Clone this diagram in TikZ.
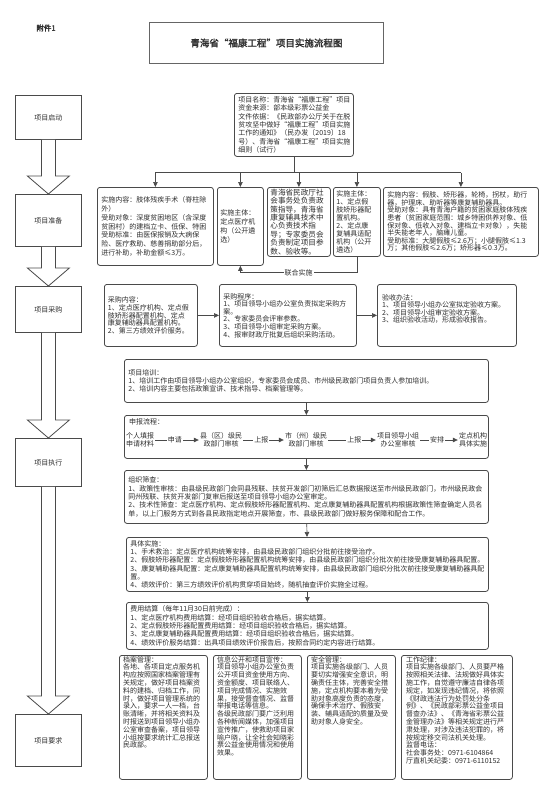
\documentclass[tikz,border=0pt]{standalone}
\usepackage{fontspec}
\setmainfont{Noto Sans CJK SC}[AutoFakeBold=2]
\usetikzlibrary{calc,arrows.meta,positioning}
\definecolor{linegray}{HTML}{4A4A4A}
\definecolor{textgray}{HTML}{2E2E2E}
\newcommand{\blockarrow}[2]{\draw[harrow] ($(#1.south)+(-7,0)$) -- ($(#2.north)+(-7,-18)$) -- ($(#2.north)+(-21,-18)$) -- (#2.north) -- ($(#2.north)+(21,-18)$) -- ($(#2.north)+(7,-18)$) -- ($(#1.south)+(7,0)$);}

\begin{document}
\begin{tikzpicture}[x=1pt,y=-1pt,
	box/.style={draw=linegray, line width=0.8pt, rounded corners=2.5pt, inner xsep=4pt, inner ysep=1pt, align=left, anchor=north west, text=textgray, font=\fontsize{7}{8.3}\selectfont},
	txt/.style={inner sep=0pt, align=left, anchor=north west, text=textgray, font=\fontsize{7}{8.3}\selectfont},
	stage/.style={draw=linegray, line width=0.8pt, anchor=north west, minimum width=66pt, text=textgray, font=\fontsize{7}{9}\selectfont},
	harrow/.style={draw=linegray, line width=0.8pt, fill=white},
	arr/.style={draw=linegray, line width=0.7pt, -{Triangle[length=5pt,width=4.5pt]}},
	lbl/.style={fill=white, inner sep=1pt, text=textgray, font=\fontsize{7}{8}\selectfont},
	flowstep/.style={inner sep=1pt, align=center, text=textgray, font=\fontsize{7}{8.3}\selectfont}]
	\fill[white] (0,0) rectangle (550,800);
	\useasboundingbox (0,0) rectangle (550,800);
	
	%%%%% HEADER %%%%%
	\node[text=textgray, font=\bfseries\fontsize{7.5}{9}\selectfont] (fj) at (46,28) {附件1};
	\node[draw=linegray!85, line width=0.9pt, anchor=north west, minimum width=234pt, minimum height=41pt, text=textgray, font=\bfseries\fontsize{9.5}{10}\selectfont] (title) at (149,22) {青海省“福康工程”项目实施流程图};
	
	%%%%% LEFT COLUMN %%%%%
	\node[stage, minimum height=44pt] (qd) at (15,95) {项目启动};
	\node[stage, minimum height=52pt] (zb) at (15,194) {项目准备};
	\node[stage, minimum height=46pt] (cg) at (15,286) {项目采购};
	\node[stage, minimum height=48pt] (zx) at (15,438) {项目执行};
	\node[stage, minimum height=52pt] (yq) at (15,714) {项目要求};
	\blockarrow{qd}{zb}
	\blockarrow{zb}{cg}
	\blockarrow{cg}{zx}
	\blockarrow{zx}{yq}
	
	%%%%% START %%%%%
	\node[box, minimum width=119pt, minimum height=63pt, text width=111pt] (info) at (234,93) {项目名称：青海省“福康工程”项目\\资金来源：部本级彩票公益金\\文件依据：《民政部办公厅关于在脱\\贫攻坚中做好“福康工程”项目实施\\工作的通知》（民办发〔2019〕18\\号）、青海省“福康工程”项目实施\\细则（试行）};
	
	%%%%% PREPARATION %%%%%
	\node[box, minimum width=116pt, minimum height=78pt, text width=108pt, font=\fontsize{7}{8.9}\selectfont] (nr1) at (97,187) {实施内容：肢体残疾手术（脊柱除\\外）\\受助对象：深度贫困地区（含深度\\贫困村）的建档立卡、低保、特困\\受助标准：由医保报销及大病保\\险、医疗救助、慈善捐助部分后，\\进行补助，补助金额≤3万。};
	\node[box, minimum width=46pt, minimum height=78pt, text width=40pt, inner xsep=3pt, font=\fontsize{7}{8.9}\selectfont] (zt1) at (217,187) {实施主体：\\定点医疗机\\构（公开遴\\选）};
	\node[box, minimum width=63pt, minimum height=69pt, text width=57pt, inner xsep=3pt, font=\fontsize{7.6}{8.4}\selectfont] (zd) at (267,187) {青海省民政厅社\\会事务处负责政\\策指导，青海省\\康复辅具技术中\\心负责技术指\\导；专家委员会\\负责制定项目参\\数、验收等。};
	\node[box, minimum width=47pt, minimum height=69pt, text width=41pt, inner xsep=3pt, font=\fontsize{7}{8}\selectfont] (zt2) at (333,187) {实施主体：\\1、定点假\\肢矫形器配\\置机构。\\2、定点康\\复辅具适配\\机构（公开\\遴选）};
	\node[box, minimum width=155pt, minimum height=69pt, text width=147pt, font=\fontsize{7}{7.6}\selectfont] (nr2) at (383,187) {实施内容：假肢、矫形器，轮椅，拐杖，助行\\器，护理床、助听器等康复辅助器具。\\受助对象：具有青海户籍的贫困家庭肢体残疾\\患者（贫困家庭范围：城乡特困供养对象、低\\保对象、低收入对象、建档立卡对象），失能\\半失能老年人，脑瘫儿童。\\受助标准：大腿假肢≤2.6万；小腿假肢≤1.3\\万；其他假肢≤2.6万；矫形器≤0.3万。};
	
	\draw[draw=linegray, line width=0.7pt] (info.south) -- ++(0,16) coordinate (bus);
	\draw[draw=linegray, line width=0.7pt] (bus -| nr1.north) -- (bus -| nr2.north);
	\foreach \n in {nr1,zt1,zd,zt2,nr2}
		\draw[arr] (bus -| \n.north) -- (\n.north);
	\coordinate (lh) at ($(zt2.south)+(0,16)$);
	\draw[arr] (zt2.south) -- (lh) -- node[lbl]{联合实施} (lh -| zt1.south) -- (zt1.south);
	
	%%%%% PROCUREMENT %%%%%
	\node[box, minimum width=93pt, minimum height=62pt, text width=86pt, inner xsep=3.5pt, font=\fontsize{7}{7.6}\selectfont] (cgnr) at (104,284) {采购内容：\\1、定点医疗机构、定点假\\肢矫形器配置机构、定点\\康复辅助器具配置机构。\\2、第三方绩效评价服务。};
	\node[box, minimum width=137pt, minimum height=62pt, text width=129pt, font=\fontsize{7}{7.6}\selectfont] (cgcx) at (219,284) {采购程序：\\1、项目领导小组办公室负责拟定采购方\\案。\\2、专家委员会评审参数。\\3、项目领导小组审定采购方案。\\4、报审财政厅批复后组织采购活动。};
	\node[box, minimum width=139pt, minimum height=62pt] (ys) at (377,284) {};
	\node[txt, font=\fontsize{7}{7.6}\selectfont] (yst) at ($(ys.north west)+(5,10)$) {验收办法：\\1、项目领导小组办公室拟定验收方案。\\2、项目领导小组审定验收方案。\\3、组织验收活动，形成验收报告。};
	\draw[arr] (cgnr) -- (cgcx);
	\draw[arr] (cgcx) -- (ys);
	
	%%%%% EXECUTION %%%%%
	\node[box, minimum width=364pt, minimum height=43pt, text width=356pt] (px) at (124,359) {项目培训：\\1、培训工作由项目领导小组办公室组织，专家委员会成员、市州级民政部门项目负责人参加培训。\\2、培训内容主要包括政策宣讲、技术指导、档案管理等。};
	
	\node[box, minimum width=364pt, minimum height=43pt] (sb) at (124,415) {};
	\node[txt] (sbt) at ($(sb.north west)+(5,3)$) {申报流程：};
	\node[flowstep] (s1) at (140,440) {个人填报\\申请材料};
	\node[flowstep] (s2) at (221,440) {县（区）级民\\政部门审核};
	\node[flowstep] (s3) at (306,440) {市（州）级民\\政部门审核};
	\node[flowstep] (s4) at (398,440) {项目领导小组\\办公室审核};
	\node[flowstep] (s5) at (473,440) {定点机构\\具体实施};
	\draw[arr] (s1) -- node[lbl, pos=0.45]{申请} (s2);
	\draw[arr] (s2) -- node[lbl, pos=0.45]{上报} (s3);
	\draw[arr] (s3) -- node[lbl, pos=0.55]{上报} (s4);
	\draw[arr] (s4) -- node[lbl, pos=0.45]{安排} (s5);
	
	\node[box, minimum width=364pt, minimum height=53pt, text width=356pt] (sc) at (124,470) {组织筛查：\\1、政策性审核：由县级民政部门会同县残联、扶贫开发部门初筛后汇总数据报送至市州级民政部门，市州级民政会\\同州残联、扶贫开发部门复审后报送至项目领导小组办公室审定。\\2、技术性筛查：定点医疗机构、定点假肢矫形器配置机构、定点康复辅助器具配置机构根据政策性筛查确定人员名\\单，以上门服务方式到各县民政指定地点开展筛查，市、县级民政部门做好服务保障和配合工作。};
	
	\node[box, minimum width=362pt, minimum height=54pt, text width=354pt] (ss) at (126,537) {具体实施：\\1、手术救治：定点医疗机构统筹安排，由县级民政部门组织分批前往接受治疗。\\2、假肢矫形器配置：定点假肢矫形器配置机构统筹安排，由县级民政部门组织分批次前往接受康复辅助器具配置。\\3、康复辅助器具配置：定点康复辅助器具配置机构统筹安排，由县级民政部门组织分批次前往接受康复辅助器具配\\置。\\4、绩效评价：第三方绩效评价机构贯穿项目始终，随机抽查评价实施全过程。};
	
	\node[box, minimum width=362pt, minimum height=47pt, text width=354pt] (js) at (126,602) {费用结算（每年11月30日前完成）：\\1、定点医疗机构费用结算：经项目组织验收合格后，据实结算。\\2、定点假肢矫形器配置费用结算：经项目组织验收合格后，据实结算。\\3、定点康复辅助器具配置费用结算：经项目组织验收合格后，据实结算。\\4、绩效评价服务结算：出具项目绩效评价报告后，按照合同约定内容进行结算。};
	
	\draw[arr] (px) -- (sb);
	\draw[arr] (sb) -- (sc);
	\draw[arr] (sc) -- (ss);
	\draw[arr] (ss) -- (js);
	
	%%%%% REQUIREMENTS %%%%%
	\node[box, minimum width=88pt, minimum height=124pt] (da) at (119,655) {};
	\node[box, minimum width=88pt, minimum height=124pt] (xx) at (213,655) {};
	\node[box, minimum width=88pt, minimum height=124pt] (aq) at (307,655) {};
	\node[box, minimum width=111pt, minimum height=124pt] (jl) at (401,655) {};
	\node[txt, font=\fontsize{7}{7.8}\selectfont] (dat) at ($(da.north west)+(4,1)$) {档案管理：\\各地、各项目定点服务机\\构应按照国家档案管理有\\关规定，做好项目档案资\\料的建档、归档工作，同\\时，做好项目管理系统的\\录入，要求一人一档，台\\账清晰，并将相关资料及\\时报送到项目领导小组办\\公室审查备案，项目领导\\小组按要求统计汇总报送\\民政部。};
	\node[txt, font=\fontsize{7}{7.8}\selectfont] (xxt) at ($(xx.north west)+(4,1)$) {信息公开和项目宣传：\\项目领导小组办公室负责\\公开项目资金使用方向、\\资金额度、项目联络人、\\项目完成情况、实施效\\果，接受督查情况、监督\\举报电话等信息。\\各级民政部门要广泛利用\\各种新闻媒体，加强项目\\宣传推广，使救助项目家\\喻户晓，让全社会知晓彩\\票公益金使用情况和使用\\效果。};
	\node[txt, font=\fontsize{7}{7.8}\selectfont] (aqt) at ($(aq.north west)+(4,1)$) {安全管理：\\项目实施各级部门、人员\\要切实增强安全意识，明\\确责任主体，完善安全措\\施，定点机构要本着为受\\助对象高度负责的态度，\\确保手术治疗、假肢安\\装、辅具适配的质量及受\\助对象人身安全。};
	\node[txt, font=\fontsize{7}{7.8}\selectfont] (jlt) at ($(jl.north west)+(5,1)$) {工作纪律：\\项目实施各级部门、人员要严格\\按照相关法律、法规做好具体实\\施工作，自觉遵守廉洁自律各项\\规定，如发现违纪情况，将依照\\《财政违法行为处罚处分条\\例》、《民政部彩票公益金项目\\督查办法》、《青海省彩票公益\\金管理办法》等相关规定进行严\\肃处理，对涉及违法犯罪的，将\\按规定移交司法机关处理。\\监督电话：\\社会事务处：0971-6104864\\厅直机关纪委：0971-6110152};
	%%%%% END %%%%%
\end{tikzpicture}
\end{document}
